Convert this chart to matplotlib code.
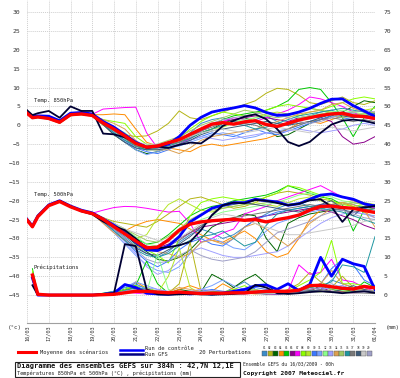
import numpy as np
import matplotlib
matplotlib.use("Agg")
import matplotlib.pyplot as plt
from matplotlib.patches import Rectangle
from matplotlib.lines import Line2D

# time axis in days after 16/03 00h
days = [0, 0.25] + [0.5 * i for i in range(1, 33)]
day_labels = ["16/03", "17/03", "18/03", "19/03", "20/03", "21/03", "22/03", "23/03", "24/03",
              "25/03", "26/03", "27/03", "28/03", "29/03", "30/03", "31/03", "01/04"]

# ---- 850 hPa temperature (°C)
t850_mean = [3.2, 2.0, 2.2, 1.8, 0.8, 2.8, 3.0, 2.6, 0.6, -1.0, -2.8, -4.8, -5.8, -5.5, -4.6, -3.8, -2.4,
             -1.0, 0.3, 0.7, 0.3, 0.9, 1.2, 0.2, -0.3, 0.5, 1.4, 2.0, 2.6, 3.0, 3.2, 2.5, 2.3, 1.8]
t850_ctrl = [3.3, 2.3, 2.5, 2.4, 1.2, 3.2, 3.4, 3.0, 1.0, -0.5, -2.5, -4.5, -5.8, -5.5, -5.0, -3.0, 0.0,
             2.1, 3.5, 4.1, 4.6, 5.2, 4.6, 3.4, 2.6, 2.8, 3.5, 4.5, 5.8, 6.9, 7.0, 5.2, 3.8, 2.3]
t850_gfs = [4.0, 2.7, 3.2, 3.8, 2.0, 5.0, 3.8, 3.8, -2.2, -2.4, -3.2, -4.7, -6.0, -5.6, -6.0, -5.2, -4.6,
            -4.8, -2.8, -0.2, 1.2, 2.3, 2.9, 1.6, -1.0, -4.4, -5.5, -4.4, -2.0, 0.2, 1.2, 1.5, 1.2, 0.5]
t850_p01 = [3.3, 2.2, 2.3, 2.0, 0.6, 2.6, 3.1, 2.8, 1.0, -1.5, -3.5, -5.5, -6.5, -6.0, -5.0, -4.0, -2.0, 0.5, 1.5, 2.0, 1.0, 0.5, 1.5, 2.5, 1.0, 0.0, 1.0, 2.5, 3.5, 4.0, 3.0, 2.0, 2.5, 3.0]
t850_p02 = [3.0, 1.8, 2.0, 1.6, 0.5, 2.5, 2.8, 2.4, 0.0, -1.5, -2.5, -3.0, -2.8, -1.5, 0.5, 3.8, 2.0, 1.5, 2.5, 3.5, 4.5, 5.5, 6.5, 8.5, 9.8, 9.5, 8.0, 6.0, 5.5, 6.5, 7.5, 6.0, 5.5, 6.5]
t850_p03 = [3.4, 2.1, 2.4, 1.9, 1.0, 3.0, 3.0, 2.5, 0.2, -2.5, -4.5, -6.5, -7.5, -7.0, -6.0, -5.0, -3.5, -2.0, -1.0, 0.5, 1.5, 2.0, 1.0, -1.0, -3.0, -2.5, -1.0, 0.5, 1.5, 2.5, 3.5, 5.0, 6.5, 6.0]
t850_p04 = [3.1, 1.9, 2.1, 1.7, 0.9, 2.7, 3.0, 2.8, 2.8, 3.0, 2.8, -1.0, -4.5, -5.5, -6.0, -6.5, -7.0, -5.5, -5.0, -5.5, -5.0, -4.5, -4.0, -3.5, -2.5, -1.0, 0.5, 1.0, 0.5, 1.5, 2.5, 3.0, 3.0, 3.5]
t850_p05 = [3.2, 2.0, 2.3, 1.9, 0.7, 2.9, 3.1, 2.7, 0.8, -1.0, -3.0, -5.5, -6.0, -5.8, -5.0, -4.5, -3.0, -1.5, 0.0, 1.5, 2.5, 3.0, 3.5, 4.0, 5.0, 6.5, 9.5, 10.0, 9.5, 6.0, 2.0, -3.0, 2.0, 5.0]
t850_p06 = [3.0, 1.9, 2.1, 1.7, 0.6, 2.6, 2.9, 2.5, 0.5, -1.0, -3.0, -5.0, -6.0, -5.5, -5.0, -4.0, -3.0, -1.5, 0.0, 1.0, 1.5, 2.0, 2.5, 2.0, 1.5, 1.0, 2.0, 2.5, 2.0, 1.0, -3.0, -5.0, -4.5, -3.0]
t850_p07 = [3.3, 2.1, 2.4, 2.0, 0.9, 2.9, 3.2, 2.9, 4.3, 4.5, 4.7, 4.8, -2.0, -6.0, -5.5, -5.0, -3.5, -1.5, 0.0, 1.0, 2.0, 1.5, 1.0, 2.0, 3.0, 4.0, 5.5, 7.5, 7.0, 6.0, 5.0, 3.5, 2.0, 1.5]
t850_p08 = [3.2, 2.0, 2.2, 1.8, 0.8, 2.8, 3.0, 2.6, 1.5, 1.0, 0.5, -3.0, -5.0, -5.5, -5.0, -3.5, -1.0, 1.0, 2.5, 3.5, 3.0, 2.5, 3.0, 4.0, 5.0, 5.5, 5.0, 4.5, 4.0, 5.0, 6.0, 7.0, 7.5, 7.0]
t850_p09 = [3.1, 2.0, 2.1, 1.8, 0.7, 2.7, 2.9, 2.6, 0.4, -1.5, -3.5, -5.5, -6.5, -6.5, -5.5, -4.5, -3.0, -2.0, -1.0, -0.5, 0.5, 1.0, 2.0, 3.0, 3.5, 3.0, 2.5, 3.5, 4.0, 3.5, 3.0, 3.5, 4.0, 4.5]
t850_p10 = [3.3, 2.1, 2.3, 1.9, 0.9, 2.9, 3.1, 2.7, 0.5, -2.0, -4.0, -6.0, -7.0, -7.5, -6.5, -5.0, -4.0, -3.0, -2.0, -2.5, -3.0, -2.0, -1.0, -2.0, -2.5, -1.5, -0.5, 0.5, 1.5, 2.5, 2.0, 1.5, 1.0, 0.5]
t850_p11 = [3.2, 2.0, 2.2, 1.8, 0.8, 2.8, 3.0, 2.6, 0.2, -2.0, -4.5, -6.5, -7.8, -7.0, -6.0, -5.5, -4.5, -3.5, -2.5, -2.0, -2.5, -3.5, -3.0, -2.0, -1.5, -1.0, 0.0, 1.0, 2.0, 3.0, 3.5, 3.0, 2.5, 2.0]
t850_p12 = [3.0, 1.9, 2.0, 1.7, 0.6, 2.6, 2.8, 2.5, 1.0, -0.5, -2.0, -4.5, -5.5, -5.5, -4.5, -4.0, -2.5, -1.0, 0.0, 0.5, 1.0, 1.5, 2.0, 2.5, 3.0, 2.5, 2.0, 2.5, 3.0, 3.5, 4.0, 3.5, 3.0, 2.5]
t850_p13 = [3.4, 2.2, 2.4, 2.0, 1.0, 3.0, 3.2, 2.8, 0.8, -1.5, -3.0, -5.0, -6.0, -6.5, -5.5, -5.0, -4.0, -3.0, -3.5, -4.0, -3.5, -3.0, -2.5, -2.0, -2.0, -1.5, -1.0, -1.5, -2.0, -1.5, -1.0, 0.0, 0.5, 0.0]
t850_p14 = [3.1, 1.9, 2.1, 1.7, 0.7, 2.7, 2.9, 2.6, 1.5, 0.5, -1.0, -4.0, -6.0, -6.5, -6.5, -7.5, -6.0, -4.0, -3.0, -2.5, -2.0, -1.5, -1.0, 0.0, 1.0, 2.0, 3.0, 3.5, 4.0, 5.5, 6.0, 4.5, 3.5, 3.0]
t850_p15 = [3.2, 2.0, 2.2, 1.8, 0.8, 2.8, 3.0, 2.7, 0.7, -1.0, -3.0, -5.0, -5.5, -5.0, -4.0, -3.0, -1.5, 0.0, 1.0, 2.0, 3.0, 4.0, 3.5, 2.5, 2.0, 2.5, 3.5, 4.5, 4.0, 3.0, 2.0, 2.5, 3.0, 3.5]
t850_p16 = [3.3, 2.1, 2.3, 1.9, 0.8, 2.8, 3.0, 2.6, 0.3, -2.0, -4.0, -5.5, -6.5, -6.0, -5.5, -4.5, -3.5, -2.0, -1.0, 0.0, 0.5, 0.0, -1.0, -0.5, 0.5, 1.5, 2.5, 3.0, 3.5, 4.0, 4.5, 4.0, 3.5, 3.0]
t850_p17 = [3.2, 2.0, 2.2, 1.8, 0.8, 2.8, 3.0, 2.6, 0.5, -1.5, -3.5, -5.5, -6.0, -6.0, -5.0, -4.5, -3.0, -1.5, -0.5, 0.5, 1.0, 0.5, 0.0, -1.0, -2.0, -1.0, 0.0, 1.0, 1.5, 2.0, 1.5, 1.0, 1.5, 1.0]
t850_p18 = [3.1, 1.9, 2.1, 1.7, 0.7, 2.7, 2.9, 2.5, 0.2, -2.5, -4.5, -6.0, -6.5, -6.5, -6.0, -5.0, -4.0, -2.5, -1.5, -1.0, -0.5, 0.0, 0.5, 1.0, 0.5, 0.0, 0.5, 1.0, 2.0, 3.0, 2.5, 2.0, 2.5, 3.0]
t850_p19 = [3.2, 2.0, 2.2, 1.8, 0.8, 2.8, 3.0, 2.6, 0.6, -1.0, -2.5, -4.5, -5.0, -5.0, -4.5, -4.0, -3.0, -2.0, -1.5, -1.0, -1.5, -2.0, -1.5, -1.0, -0.5, -1.0, -1.5, -2.0, -1.0, -0.5, -1.0, -1.5, -1.0, -0.5]
t850_p20 = [3.3, 2.1, 2.3, 1.9, 0.9, 2.9, 3.1, 2.7, 0.8, -1.0, -3.0, -5.0, -6.0, -5.5, -5.0, -4.0, -2.5, -1.0, 0.5, 1.5, 2.0, 2.5, 3.0, 3.5, 3.0, 2.0, 1.0, 0.5, 1.0, 2.0, 3.0, 3.5, 4.0, 3.5]

# ---- 500 hPa temperature (°C)
t500_mean = [-25.1, -26.9, -24.2, -21.3, -20.2, -21.6, -22.7, -23.4, -24.9, -26.9, -28.8, -30.7, -32.5, -32.3, -30.4, -27.8, -26.2,
             -25.6, -25.3, -25.1, -24.9, -25.2, -25.0, -25.6, -25.0, -24.5, -23.8, -22.5, -21.5, -21.4, -21.8, -22.0, -22.6, -23.1]
t500_ctrl = [-24.9, -26.7, -24.0, -21.1, -20.0, -21.4, -22.5, -23.2, -24.8, -26.5, -28.5, -31.0, -33.0, -33.2, -32.0, -29.5, -25.6,
             -23.8, -22.0, -21.2, -20.5, -20.5, -19.6, -20.0, -20.3, -21.2, -20.8, -19.6, -18.5, -18.2, -19.0, -19.6, -20.8, -21.4]
t500_gfs = [-25.0, -26.8, -24.0, -21.2, -20.0, -21.5, -22.8, -23.6, -25.5, -26.8, -27.8, -30.0, -32.6, -32.6, -32.3, -31.8, -30.9,
            -27.8, -23.8, -21.2, -20.5, -20.7, -19.8, -20.0, -20.6, -21.2, -20.8, -19.9, -19.6, -21.6, -25.6, -22.3, -21.8, -21.4]
t500_p01 = [-25.2, -27.0, -24.3, -21.4, -20.3, -21.7, -22.6, -23.5, -25.5, -27.5, -29.5, -32.0, -34.0, -35.0, -33.5, -31.0, -29.0, -27.5, -28.5, -30.0, -29.0, -27.0, -25.0, -23.5, -22.0, -21.0, -20.5, -21.5, -22.0, -21.0, -20.5, -21.0, -22.0, -22.5]
t500_p02 = [-25.0, -26.8, -24.1, -21.2, -20.1, -21.5, -22.5, -23.3, -24.5, -25.5, -26.0, -26.5, -27.0, -25.5, -23.5, -21.5, -19.5, -19.0, -20.0, -21.0, -22.0, -21.5, -20.5, -19.0, -18.0, -17.5, -18.0, -18.5, -19.5, -20.0, -21.0, -20.5, -21.0, -21.5]
t500_p03 = [-25.1, -26.9, -24.2, -21.3, -20.2, -21.6, -22.7, -23.4, -25.2, -27.0, -29.0, -31.5, -33.5, -35.5, -36.0, -35.0, -33.0, -30.0, -27.0, -25.5, -24.5, -23.5, -24.0, -30.0, -33.5, -26.0, -24.5, -23.5, -23.0, -22.5, -22.0, -22.0, -21.5, -22.0]
t500_p04 = [-25.0, -26.8, -24.1, -21.2, -20.1, -21.5, -22.6, -23.3, -25.8, -27.5, -28.0, -26.5, -25.5, -25.0, -25.5, -26.0, -27.5, -29.0, -30.5, -31.0, -29.5, -28.0, -30.0, -33.5, -35.0, -34.0, -30.0, -25.0, -22.5, -21.0, -20.5, -21.5, -23.0, -24.5]
t500_p05 = [-25.2, -27.0, -24.3, -21.4, -20.3, -21.7, -22.8, -23.5, -25.0, -26.5, -28.0, -30.0, -31.5, -31.0, -29.0, -26.5, -24.0, -22.5, -21.5, -21.0, -20.0, -19.5, -19.0, -18.5, -17.5, -16.0, -17.0, -18.0, -19.0, -19.5, -21.0, -28.0, -22.5, -22.0]
t500_p06 = [-25.1, -26.9, -24.2, -21.3, -20.2, -21.6, -22.7, -23.4, -25.0, -26.8, -28.5, -30.5, -32.0, -32.5, -31.5, -30.0, -28.5, -27.0, -26.5, -26.0, -25.5, -25.0, -24.5, -24.0, -23.5, -23.0, -22.5, -22.0, -22.5, -23.0, -24.0, -25.0, -26.5, -27.5]
t500_p07 = [-25.0, -26.8, -24.1, -21.2, -20.1, -21.5, -22.6, -23.3, -22.5, -21.8, -21.5, -21.6, -22.0, -22.5, -23.0, -22.8, -26.0, -31.0, -30.0, -28.5, -27.5, -23.5, -22.5, -21.5, -20.0, -19.0, -18.0, -17.0, -16.0, -17.5, -19.0, -20.0, -21.0, -22.0]
t500_p08 = [-25.1, -26.9, -24.2, -21.3, -20.2, -21.6, -22.7, -23.4, -24.5, -26.0, -28.0, -30.5, -33.0, -34.5, -36.5, -30.0, -24.0, -20.5, -19.5, -19.0, -19.5, -20.0, -20.0, -19.0, -18.0, -16.0, -16.5, -17.5, -18.5, -20.0, -21.0, -21.5, -21.0, -21.5]
t500_p09 = [-25.1, -26.9, -24.2, -21.3, -20.2, -21.6, -22.7, -23.4, -24.8, -26.5, -28.5, -30.0, -29.0, -24.5, -21.0, -19.5, -21.0, -22.5, -23.0, -22.0, -21.5, -21.0, -20.5, -21.0, -21.5, -20.5, -19.5, -19.0, -20.0, -21.0, -20.5, -20.0, -20.5, -21.0]
t500_p10 = [-25.2, -27.0, -24.3, -21.4, -20.3, -21.7, -22.8, -23.5, -25.5, -28.0, -30.5, -33.5, -36.0, -37.5, -36.0, -33.0, -31.0, -30.0, -31.5, -32.0, -30.0, -27.0, -25.0, -24.0, -23.0, -22.5, -22.0, -21.5, -21.0, -21.0, -21.5, -22.0, -22.5, -23.0]
t500_p11 = [-25.1, -26.9, -24.2, -21.3, -20.2, -21.6, -22.7, -23.4, -25.8, -28.5, -31.5, -34.5, -37.0, -38.5, -39.0, -37.5, -34.0, -31.0, -30.0, -31.0, -32.5, -33.0, -31.0, -28.0, -26.0, -25.0, -24.0, -23.0, -22.5, -22.0, -22.5, -23.0, -23.5, -24.0]
t500_p12 = [-25.0, -26.8, -24.1, -21.2, -20.1, -21.5, -22.6, -23.3, -24.8, -26.0, -27.5, -29.5, -31.5, -32.0, -30.5, -28.5, -26.5, -25.0, -24.0, -23.0, -22.5, -22.0, -21.5, -21.0, -20.5, -19.5, -18.5, -18.0, -18.5, -19.0, -20.0, -20.5, -21.0, -21.0]
t500_p13 = [-25.2, -27.0, -24.3, -21.4, -20.3, -21.7, -22.8, -23.5, -25.5, -28.0, -31.0, -34.0, -37.5, -39.5, -38.5, -36.0, -33.5, -32.5, -33.5, -34.5, -35.0, -35.0, -34.5, -34.0, -33.5, -32.0, -30.0, -28.0, -26.0, -24.5, -23.5, -23.0, -23.5, -24.5]
t500_p14 = [-25.1, -26.9, -24.2, -21.3, -20.2, -21.6, -22.7, -23.4, -26.0, -28.5, -30.5, -32.0, -33.0, -33.5, -34.0, -35.0, -34.0, -31.0, -30.5, -31.5, -30.0, -27.0, -26.0, -27.5, -30.0, -32.0, -29.5, -26.0, -24.0, -22.0, -20.5, -21.0, -22.5, -27.0]
t500_p15 = [-25.0, -26.8, -24.1, -21.2, -20.1, -21.5, -22.6, -23.3, -24.5, -26.0, -27.5, -29.0, -30.5, -31.0, -29.5, -27.5, -25.0, -23.5, -22.5, -22.0, -21.5, -21.0, -21.0, -20.5, -20.0, -20.5, -21.0, -21.5, -22.0, -21.5, -21.0, -20.5, -21.0, -21.5]
t500_p16 = [-25.1, -26.9, -24.2, -21.3, -20.2, -21.6, -22.7, -23.4, -25.5, -28.0, -30.5, -33.0, -34.5, -35.0, -34.0, -32.0, -30.5, -29.5, -29.0, -28.0, -30.0, -32.0, -31.0, -26.5, -23.5, -22.5, -22.0, -21.5, -22.0, -22.5, -23.0, -24.0, -25.0, -26.0]
t500_p17 = [-25.1, -26.9, -24.2, -21.3, -20.2, -21.6, -22.7, -23.4, -25.0, -27.0, -29.0, -31.0, -32.5, -33.0, -32.0, -30.5, -28.5, -26.5, -25.5, -25.0, -24.5, -24.0, -23.5, -23.0, -22.5, -22.0, -21.5, -21.0, -21.5, -22.0, -22.5, -23.0, -22.5, -22.0]
t500_p18 = [-25.2, -27.0, -24.3, -21.4, -20.3, -21.7, -22.8, -23.5, -25.5, -27.5, -30.0, -32.5, -34.0, -34.5, -33.0, -31.5, -29.5, -27.0, -24.0, -21.5, -21.0, -20.5, -21.0, -21.5, -22.0, -22.5, -23.0, -22.0, -21.0, -20.0, -22.0, -24.0, -21.5, -21.0]
t500_p19 = [-25.0, -26.8, -24.1, -21.2, -20.1, -21.5, -22.6, -23.3, -24.5, -26.0, -27.5, -28.5, -29.5, -30.5, -31.0, -30.0, -28.0, -26.0, -24.5, -23.5, -24.0, -25.0, -26.0, -27.0, -28.0, -29.0, -29.0, -28.5, -28.0, -27.5, -27.0, -26.5, -25.5, -25.0]
t500_p20 = [-25.1, -26.9, -24.2, -21.3, -20.2, -21.6, -22.7, -23.4, -25.2, -27.5, -30.0, -33.0, -35.5, -36.5, -36.0, -34.5, -33.0, -34.5, -35.5, -36.0, -35.5, -35.0, -33.5, -31.0, -28.5, -27.5, -26.5, -25.5, -24.0, -23.0, -22.5, -23.5, -24.5, -25.0]

# ---- precipitation (mm), no value at the analysis time
n = np.nan
rr_mean = [n, 5.3, 0.2, 0.0, 0.0, 0.0, 0.0, 0.0, 0.1, 0.2, 0.6, 1.0, 1.0, 0.8, 0.6, 0.8, 0.6,
           0.4, 0.5, 0.5, 0.6, 0.6, 0.8, 1.0, 1.0, 1.0, 1.3, 2.5, 2.6, 2.2, 1.8, 1.6, 2.3, 1.9]
rr_ctrl = [n, 4.5, 0.0, 0.0, 0.0, 0.0, 0.0, 0.0, 0.2, 0.5, 2.8, 2.0, 0.5, 0.3, 0.2, 0.5, 0.3,
           0.5, 0.3, 0.5, 1.0, 1.5, 2.5, 2.7, 1.5, 3.0, 1.2, 2.8, 10.0, 5.0, 9.5, 8.3, 7.6, 1.5]
rr_gfs = [n, 2.6, 0.0, 0.0, 0.0, 0.0, 0.0, 0.0, 0.3, 0.5, 13.5, 13.0, 1.5, 0.2, 0.1, 0.2, 0.3,
          0.2, 0.1, 0.2, 0.3, 0.5, 2.7, 2.0, 0.5, 0.3, 0.5, 0.8, 1.0, 0.8, 0.5, 0.8, 1.0, 0.6]
rr_p01 = [n, 5.0, 0.3, 0, 0, 0, 0, 0, 0.2, 0.5, 1.5, 2.5, 1.0, 0.5, 0.2, 0.3, 0.5, 1.0, 0.8, 0.5, 2.0, 3.5, 1.5, 0.5, 0.3, 0.5, 1.0, 2.0, 1.5, 4.0, 3.0, 2.0, 1.0, 0.5]
rr_p02 = [n, 6.0, 0.2, 0, 0, 0, 0, 0, 0.0, 0.3, 0.8, 1.2, 0.5, 0.3, 0.5, 3.0, 14.0, 1.0, 0.3, 0.5, 0.5, 0.8, 1.0, 0.5, 0.5, 1.5, 3.0, 6.0, 3.5, 2.0, 5.0, 2.0, 1.5, 1.0]
rr_p03 = [n, 4.5, 0.0, 0, 0, 0, 0, 0, 0.3, 0.8, 1.5, 1.8, 1.0, 0.6, 0.5, 1.5, 1.0, 0.8, 5.5, 4.0, 2.0, 4.0, 5.5, 3.0, 0.3, 0.5, 0.8, 1.0, 2.5, 1.5, 1.0, 0.8, 1.2, 1.0]
rr_p04 = [n, 5.5, 0.2, 0, 0, 0, 0, 0, 0.0, 0.2, 0.5, 3.5, 1.8, 0.8, 0.5, 1.5, 2.5, 1.5, 1.0, 3.0, 1.5, 0.5, 0.3, 0.5, 1.0, 0.8, 1.0, 1.5, 1.0, 0.8, 1.0, 1.2, 1.5, 2.0]
rr_p05 = [n, 7.0, 0.3, 0, 0, 0, 0, 0, 0.5, 1.0, 2.0, 2.5, 9.0, 3.0, 0.5, 0.3, 0.2, 0.5, 1.0, 0.8, 0.6, 0.5, 1.0, 0.5, 0.4, 0.5, 1.0, 2.0, 3.0, 2.0, 1.5, 1.0, 3.5, 2.0]
rr_p06 = [n, 4.8, 0.1, 0, 0, 0, 0, 0, 0.1, 0.3, 0.8, 1.0, 0.8, 0.5, 0.3, 0.5, 0.8, 0.5, 0.3, 0.5, 0.5, 0.3, 0.5, 0.3, 0.2, 0.5, 1.0, 1.5, 2.0, 1.0, 0.8, 0.5, 0.8, 0.5]
rr_p07 = [n, 5.2, 0.2, 0, 0, 0, 0, 0, 0.2, 0.5, 0.8, 0.5, 0.3, 0.3, 0.5, 0.4, 0.3, 0.5, 0.4, 0.5, 1.0, 0.8, 0.5, 0.5, 0.8, 1.0, 8.0, 5.5, 6.0, 9.5, 4.0, 3.5, 2.0, 1.0]
rr_p08 = [n, 6.5, 0.3, 0, 0, 0, 0, 0, 0.3, 0.6, 1.5, 2.5, 2.0, 1.0, 0.5, 0.6, 1.0, 0.8, 0.6, 0.8, 1.5, 2.5, 1.0, 0.8, 0.6, 1.0, 2.5, 4.0, 6.0, 14.5, 3.0, 3.0, 2.5, 2.0]
rr_p09 = [n, 5.0, 0.2, 0, 0, 0, 0, 0, 0.2, 0.4, 0.8, 1.2, 0.8, 0.5, 5.0, 12.5, 2.0, 0.3, 0.4, 0.6, 0.8, 0.5, 0.4, 0.6, 0.8, 1.0, 1.5, 1.2, 1.0, 0.8, 1.5, 2.0, 1.0, 0.8]
rr_p10 = [n, 4.0, 0.0, 0, 0, 0, 0, 0, 0.4, 1.0, 2.5, 3.0, 1.5, 1.0, 0.5, 0.3, 0.5, 1.0, 1.5, 1.0, 0.8, 1.2, 2.0, 1.5, 1.0, 0.8, 1.5, 2.0, 3.0, 7.0, 9.5, 8.0, 4.0, 2.5]
rr_p11 = [n, 4.8, 0.2, 0, 0, 0, 0, 0, 0.3, 0.8, 2.0, 3.5, 2.5, 1.5, 0.8, 0.5, 0.8, 1.5, 2.5, 4.0, 2.5, 1.5, 1.0, 0.5, 0.3, 0.5, 0.8, 1.0, 1.5, 2.0, 2.5, 1.5, 1.0, 0.5]
rr_p12 = [n, 5.5, 0.2, 0, 0, 0, 0, 0, 0.1, 0.3, 0.6, 0.8, 0.6, 11.0, 1.5, 0.4, 0.3, 0.4, 0.5, 0.6, 0.5, 0.4, 0.5, 0.6, 0.8, 1.0, 1.5, 2.0, 2.5, 1.8, 1.2, 0.8, 1.0, 1.2]
rr_p13 = [n, 4.2, 0.0, 0, 0, 0, 0, 0, 0.2, 0.5, 1.0, 1.5, 2.0, 1.5, 1.0, 0.8, 1.0, 1.5, 1.2, 1.0, 0.8, 0.6, 0.5, 0.8, 1.0, 1.2, 1.0, 0.8, 1.5, 2.0, 2.5, 1.0, 0.8, 0.5]
rr_p14 = [n, 5.8, 0.3, 0, 0, 0, 0, 0, 0.2, 0.4, 0.8, 1.0, 0.8, 0.6, 1.0, 2.0, 1.5, 1.0, 0.8, 0.5, 0.6, 0.8, 1.0, 0.8, 0.6, 0.5, 1.0, 2.0, 3.0, 6.5, 3.0, 2.0, 1.5, 1.0]
rr_p15 = [n, 5.0, 0.1, 0, 0, 0, 0, 0, 0.1, 0.3, 0.5, 0.8, 0.5, 0.3, 0.2, 0.3, 0.5, 0.4, 0.3, 0.4, 0.5, 1.0, 1.5, 1.0, 0.5, 0.8, 1.2, 1.0, 0.8, 1.5, 2.0, 1.5, 1.0, 0.8]
rr_p16 = [n, 4.6, 0.2, 0, 0, 0, 0, 0, 0.3, 0.6, 1.2, 2.0, 1.5, 0.8, 0.5, 0.8, 1.0, 0.6, 0.5, 0.8, 1.0, 0.8, 0.6, 0.5, 0.8, 1.0, 1.5, 2.0, 2.5, 3.5, 8.0, 7.5, 6.0, 15.5]
rr_p17 = [n, 5.3, 0.2, 0, 0, 0, 0, 0, 0.2, 0.4, 0.6, 0.8, 0.6, 0.4, 0.3, 0.5, 0.4, 0.5, 0.6, 0.5, 0.4, 0.5, 0.6, 0.8, 1.0, 0.8, 0.6, 1.0, 1.5, 1.0, 0.8, 0.6, 0.5, 0.4]
rr_p18 = [n, 4.9, 0.1, 0, 0, 0, 0, 0, 0.1, 0.3, 0.6, 0.9, 0.7, 0.5, 0.4, 0.6, 0.8, 0.6, 0.4, 0.3, 0.5, 0.6, 0.4, 0.3, 0.5, 0.8, 1.0, 1.2, 1.0, 0.8, 1.5, 2.5, 1.5, 0.8]
rr_p19 = [n, 5.1, 0.2, 0, 0, 0, 0, 0, 0.2, 0.3, 0.5, 0.7, 0.5, 0.3, 0.4, 0.5, 0.6, 0.5, 0.4, 0.3, 0.4, 0.5, 0.6, 0.5, 0.4, 0.5, 0.6, 0.8, 1.0, 0.8, 0.6, 0.5, 0.6, 0.8]
rr_p20 = [n, 5.6, 0.2, 0, 0, 0, 0, 0, 0.2, 0.5, 1.0, 1.5, 1.0, 0.6, 0.4, 0.5, 0.8, 1.0, 0.8, 0.6, 0.5, 0.8, 1.0, 0.8, 0.6, 0.8, 1.0, 1.5, 2.0, 3.0, 2.0, 1.5, 1.2, 1.0]

member_colors = ["#3c8cc8", "#b4b414", "#006400", "#ff8c00", "#00c800", "#8c008c", "#ff00ff", "#8cff00",
                 "#b4e628", "#3c78ff", "#78a0ff", "#8cff8c", "#a0a0ff", "#dca050", "#a0c864", "#1e96a0",
                 "#787878", "#3c5a78", "#c8c8c8", "#a0a0c8"]

t850_members = [t850_p01, t850_p02, t850_p03, t850_p04, t850_p05, t850_p06, t850_p07, t850_p08, t850_p09, t850_p10,
                t850_p11, t850_p12, t850_p13, t850_p14, t850_p15, t850_p16, t850_p17, t850_p18, t850_p19, t850_p20]
t500_members = [t500_p01, t500_p02, t500_p03, t500_p04, t500_p05, t500_p06, t500_p07, t500_p08, t500_p09, t500_p10,
                t500_p11, t500_p12, t500_p13, t500_p14, t500_p15, t500_p16, t500_p17, t500_p18, t500_p19, t500_p20]
rr_members = [rr_p01, rr_p02, rr_p03, rr_p04, rr_p05, rr_p06, rr_p07, rr_p08, rr_p09, rr_p10,
              rr_p11, rr_p12, rr_p13, rr_p14, rr_p15, rr_p16, rr_p17, rr_p18, rr_p19, rr_p20]

W, H = 400, 378
MONO = "DejaVu Sans Mono"
RED, BLUE, NAVY = "#ff0000", "#0000ff", "#000033"
TXT = "#222222"


def fx(x):
    return x / W


def fy(y):
    return 1 - y / H


def label(x, y, s, size, **kw):
    kw.setdefault("va", "center")
    kw.setdefault("color", TXT)
    fig.text(fx(x), fy(y), s, fontsize=size, family=MONO, **kw)


fig = plt.figure(figsize=(4, 3.78), dpi=100)
fig.patch.set_facecolor("white")
ax = fig.add_axes([fx(27), fy(323), fx(348), 323 / H])
ax2 = ax.twinx()

lo, hi = -52.4, 33.2
ax.set_xlim(0, 16)
ax.set_ylim(lo, hi)
ax2.set_ylim(lo + 45, hi + 45)

for a in (ax, ax2):
    for s in a.spines.values():
        s.set_visible(False)
ax.spines["bottom"].set_visible(True)
ax.spines["bottom"].set_color("#a0a0a0")
ax.spines["bottom"].set_linewidth(0.8)

ax.set_yticks(range(-45, 31, 5))
ax2.set_yticks(range(0, 76, 5))
ax.set_xticks(range(17))
ax.set_xticklabels(day_labels, rotation=90, fontsize=3.8, family=MONO, color="#333333", va="top")
ax.tick_params(axis="y", length=0, labelsize=4.6, colors="#333333", pad=5)
ax.tick_params(axis="x", length=0, pad=1.5)
ax2.tick_params(axis="y", length=0, labelsize=4.6, colors="#333333", pad=6)
for lab in ax.get_yticklabels() + ax2.get_yticklabels():
    lab.set_family(MONO)
ax.grid(True, color="#cfcfcf", linestyle=(0, (1, 1)), linewidth=0.7)
ax.set_axisbelow(True)

for c, a, b, r in zip(member_colors, t850_members, t500_members, rr_members):
    ax.plot(days, a, color=c, lw=0.7)
    ax.plot(days, b, color=c, lw=0.7)
    ax2.plot(days, r, color=c, lw=0.7)

ax.plot(days, t850_ctrl, color=BLUE, lw=2.0)
ax.plot(days, t500_ctrl, color=BLUE, lw=2.0)
ax2.plot(days, rr_ctrl, color=BLUE, lw=2.0)
ax.plot(days, t850_gfs, color=NAVY, lw=1.3)
ax.plot(days, t500_gfs, color=NAVY, lw=1.3)
ax2.plot(days, rr_gfs, color=NAVY, lw=1.3)
ax.plot(days, t850_mean, color=RED, lw=2.4)
ax.plot(days, t500_mean, color=RED, lw=2.4)
ax2.plot(days, rr_mean, color=RED, lw=2.4)

ax.text(0.3, 6.3, "Temp. 850hPa", fontsize=3.9, family=MONO, color=TXT)
ax.text(0.3, -18.7, "Temp. 500hPa", fontsize=3.9, family=MONO, color=TXT)
ax.text(0.3, -38.2, "Précipitations", fontsize=4.0, family=MONO, color=TXT)

# units
label(22, 327, "(°c)", 4.2, ha="right", color="#333333")
label(386, 327, "(mm)", 4.2, color="#333333")

# legend row
fig.add_artist(Line2D([fx(18), fx(36)], [fy(352), fy(352)], color=RED, lw=2.2))
label(40, 352, "Moyenne des scénarios", 3.9)
fig.add_artist(Line2D([fx(120), fx(143)], [fy(349.5), fy(349.5)], color=BLUE, lw=1.8))
fig.add_artist(Line2D([fx(120), fx(143)], [fy(354), fy(354)], color="#000080", lw=1.8))
label(145, 348.8, "Run de contrôle", 3.85)
label(145, 354.5, "Run GFS", 3.85)
label(199, 352.5, "20 Perturbations", 3.95)
for i, c in enumerate(member_colors):
    x0 = 262 + i * 5.5
    fig.add_artist(Rectangle((fx(x0), fy(355.5)), fx(5), 5 / H, facecolor=c, edgecolor="#555555", lw=0.3))
    label(x0 + 2.5, 347.8, "%02d" % (i + 1), 2.1, ha="center")

# title box
fig.add_artist(Rectangle((fx(15), fy(377)), fx(225), 15 / H, facecolor="white", edgecolor="#222222", lw=0.8))
label(17, 366, "Diagramme des ensembles GEFS sur 384h : 42,7N 12,1E", 5.0, weight="bold", color="#111111")
label(17, 373.5, "Températures 850hPa et 500hPa (°C) , précipitations (mm)", 3.8)
label(243, 364, "Ensemble GEFS du 16/03/2009 - 00h", 3.35)
label(243, 373.5, "Copyright 2007 Meteociel.fr", 4.5, weight="bold", color="#111111")

fig.savefig("out.png", dpi=100)
